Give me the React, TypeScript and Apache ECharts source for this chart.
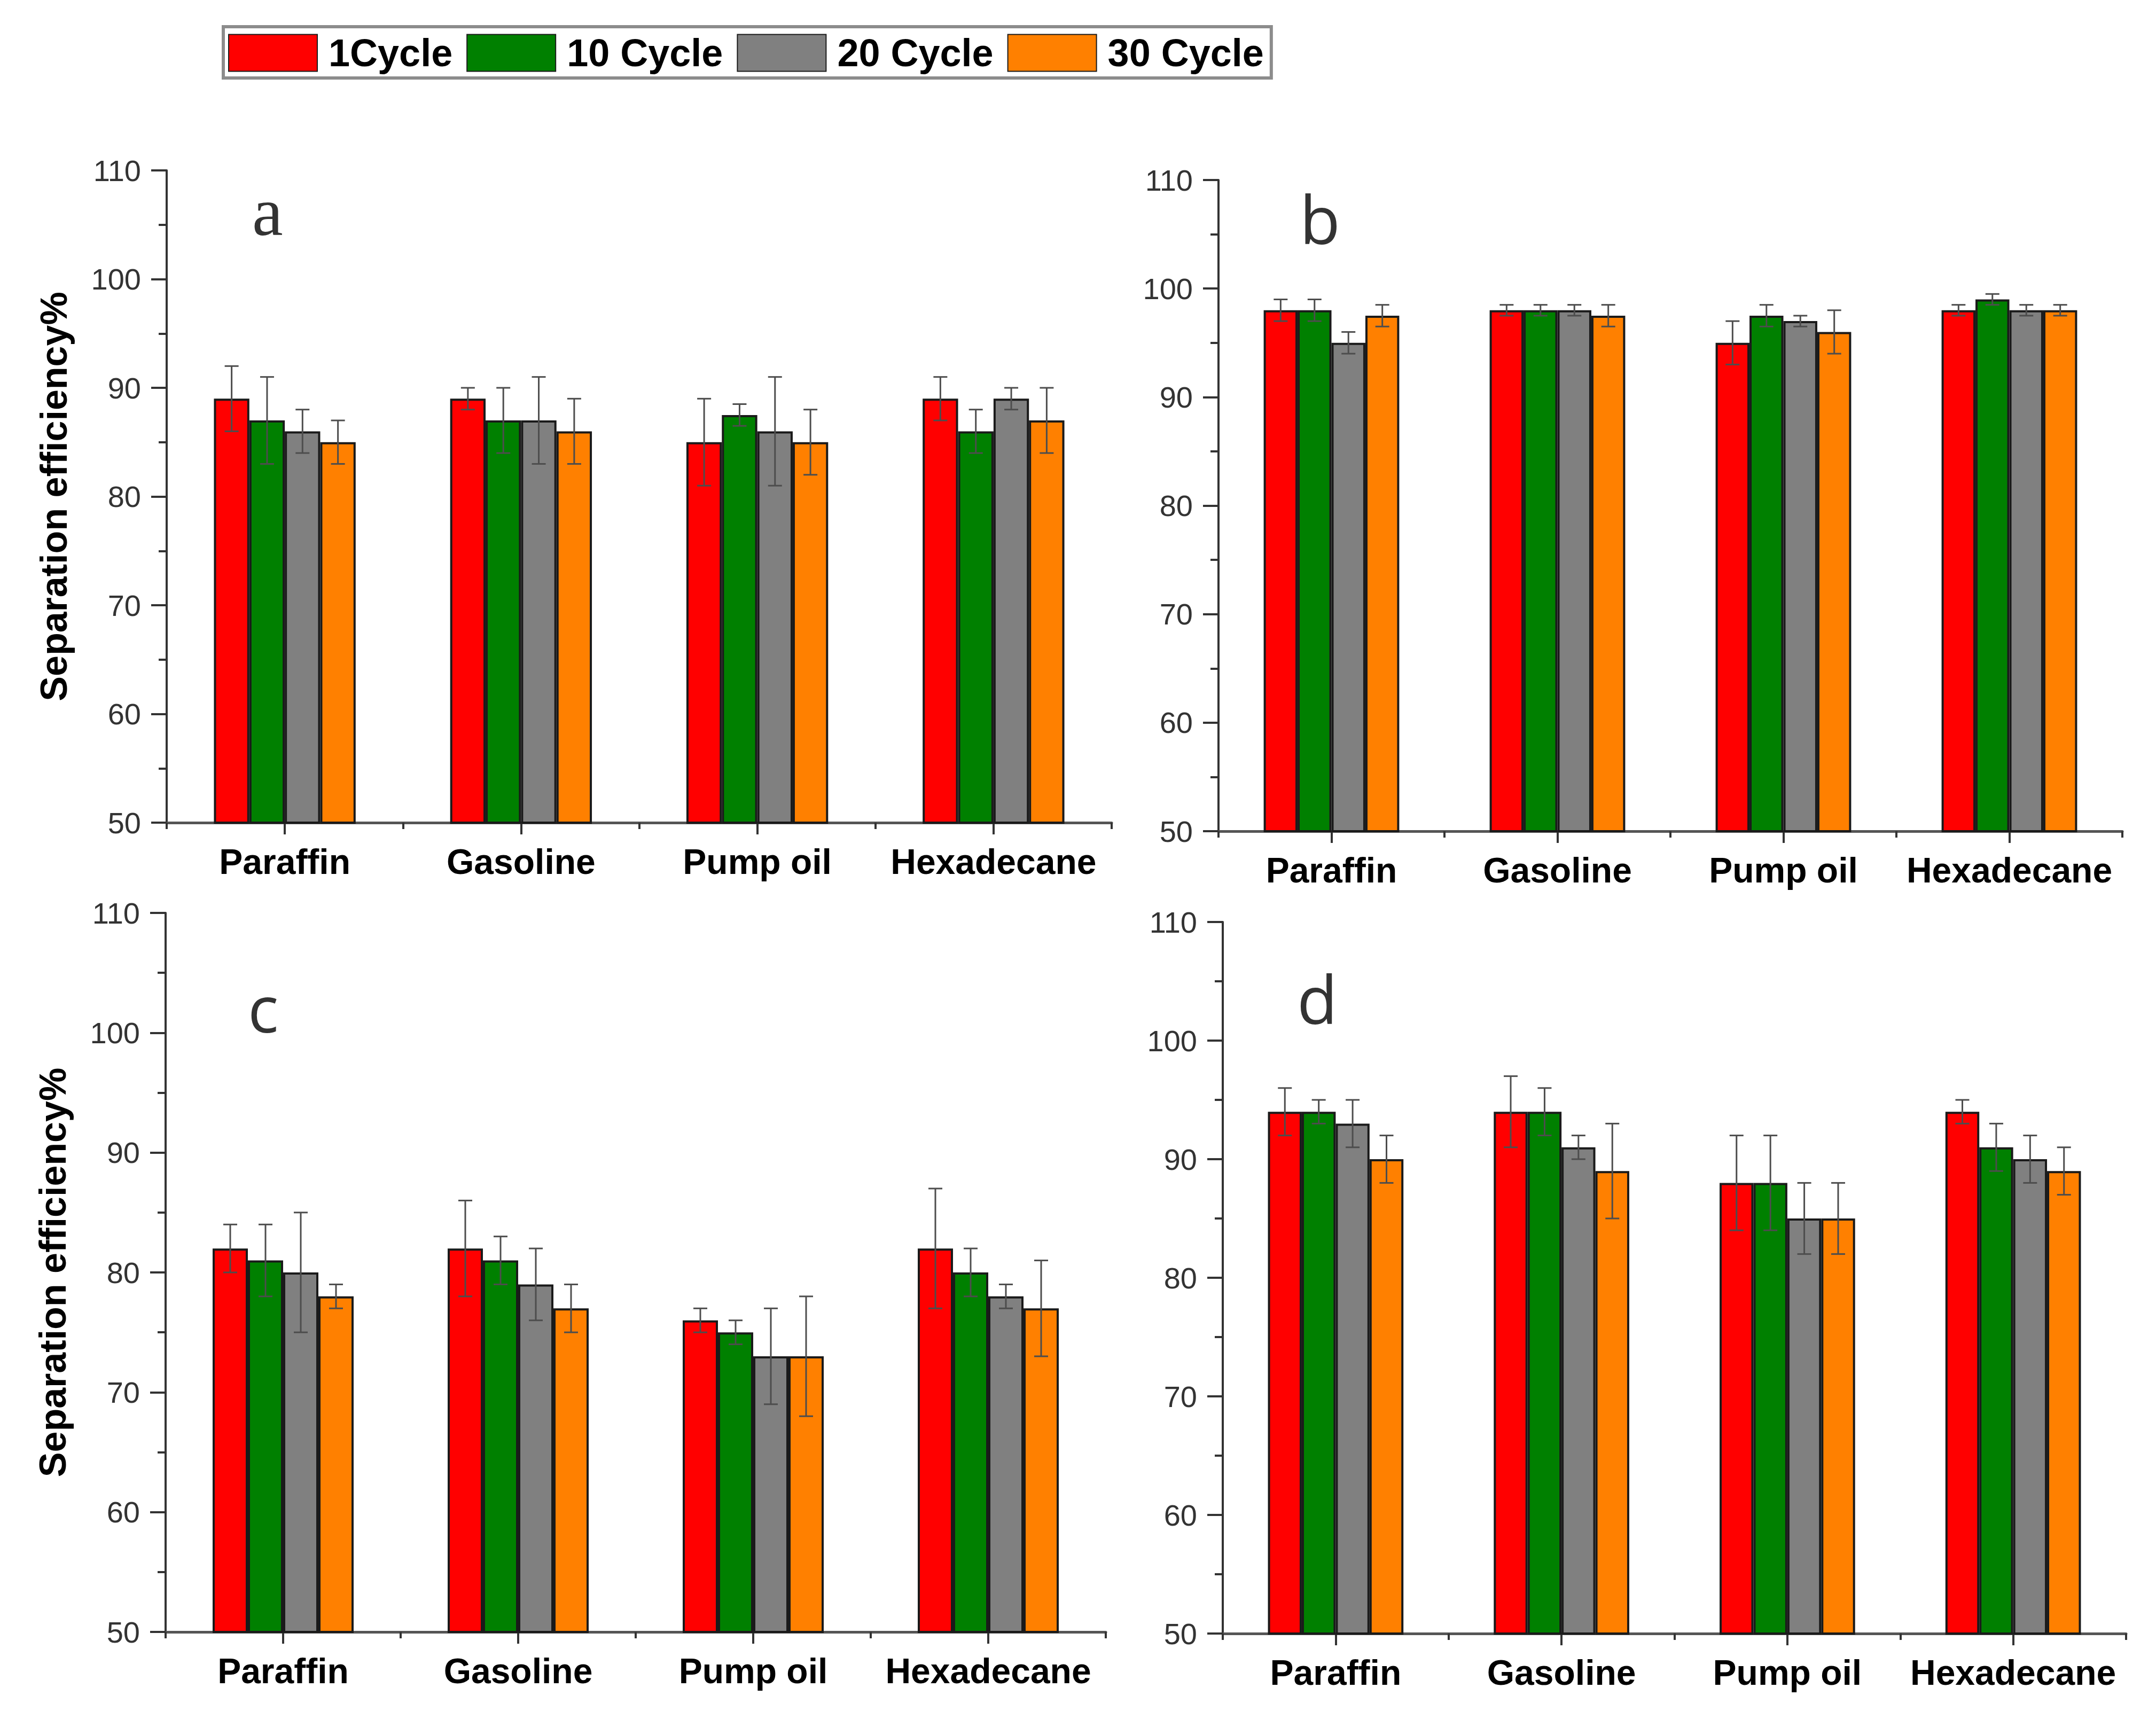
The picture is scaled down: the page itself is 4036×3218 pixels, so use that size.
import React, { useEffect, useRef } from "react";
import * as echarts from "echarts";

// ---------- data ----------
const categories = ["Paraffin", "Gasoline", "Pump oil", "Hexadecane"];
const cycles = ["1Cycle", "10 Cycle", "20 Cycle", "30 Cycle"];
const cycleColors = ["#FF0000", "#008000", "#808080", "#FF8000"];

const yMin = 50;
const yMax = 110;
const yStep = 10;

// rows: cycle (1, 10, 20, 30); columns: categories
const panelAValues = [
  [89, 89, 85, 89],
  [87, 87, 87.5, 86],
  [86, 87, 86, 89],
  [85, 86, 85, 87],
];
const panelAErrors = [
  [3, 1, 4, 2],
  [4, 3, 1, 2],
  [2, 4, 5, 1],
  [2, 3, 3, 3],
];

const panelBValues = [
  [98, 98, 95, 98],
  [98, 98, 97.5, 99],
  [95, 98, 97, 98],
  [97.5, 97.5, 96, 98],
];
const panelBErrors = [
  [1, 0.5, 2, 0.5],
  [1, 0.5, 1, 0.5],
  [1, 0.5, 0.5, 0.5],
  [1, 1, 2, 0.5],
];

const panelCValues = [
  [82, 82, 76, 82],
  [81, 81, 75, 80],
  [80, 79, 73, 78],
  [78, 77, 73, 77],
];
const panelCErrors = [
  [2, 4, 1, 5],
  [3, 2, 1, 2],
  [5, 3, 4, 1],
  [1, 2, 5, 4],
];

const panelDValues = [
  [94, 94, 88, 94],
  [94, 94, 88, 91],
  [93, 91, 85, 90],
  [90, 89, 85, 89],
];
const panelDErrors = [
  [2, 3, 4, 1],
  [1, 2, 4, 2],
  [2, 1, 3, 2],
  [2, 4, 3, 2],
];

const panelLetters = ["a", "b", "c", "d"];
const yAxisTitle = "Separation efficiency%";

// ---------- layout ----------
const panels = [
  {
    values: panelAValues,
    errors: panelAErrors,
    grid: { left: 312, top: 319, width: 1769, height: 1221 },
    title: true,
    letter: { x: 472, y: 461, family: "Liberation Serif", size: 130 },
  },
  {
    values: panelBValues,
    errors: panelBErrors,
    grid: { left: 2281, top: 337, width: 1692, height: 1219 },
    title: false,
    letter: { x: 2433, y: 470, family: "Open Sans", size: 124 },
  },
  {
    values: panelCValues,
    errors: panelCErrors,
    grid: { left: 310, top: 1709, width: 1760, height: 1346 },
    title: true,
    letter: { x: 464, y: 1946, family: "Open Sans", size: 120 },
  },
  {
    values: panelDValues,
    errors: panelDErrors,
    grid: { left: 2289, top: 1726, width: 1691, height: 1332 },
    title: false,
    letter: { x: 2428, y: 1930, family: "Open Sans", size: 124 },
  },
];

const axisColor = "#333333";
const font = "Liberation Sans";

function buildOption() {
  const grids: any[] = [];
  const xAxes: any[] = [];
  const yAxes: any[] = [];
  const series: any[] = [];
  const graphics: any[] = [];

  panels.forEach((p, pi) => {
    grids.push({ ...p.grid, containLabel: false });
  });

  // primary category axes (labels + long ticks at centers)
  panels.forEach((p, pi) => {
    xAxes.push({
      type: "category",
      gridIndex: pi,
      position: "bottom",
      data: categories,
      boundaryGap: true,
      axisLine: { show: true, onZero: false, lineStyle: { color: "#555555", width: 5 } },
      axisTick: { show: true, alignWithLabel: true, length: 22, lineStyle: { color: axisColor, width: 4 } },
      axisLabel: {
        show: true,
        margin: 40,
        fontSize: 66,
        fontWeight: "bold",
        fontFamily: font,
        color: "#000000",
        interval: 0,
      },
      splitLine: { show: false },
    });
  });
  // secondary category axes (short ticks at boundaries)
  panels.forEach((p, pi) => {
    xAxes.push({
      type: "category",
      gridIndex: pi,
      position: "bottom",
      data: categories,
      boundaryGap: true,
      axisLine: { show: false },
      axisTick: { show: true, alignWithLabel: false, length: 12, interval: 0, lineStyle: { color: axisColor, width: 4 } },
      axisLabel: { show: false },
      splitLine: { show: false },
    });
  });

  panels.forEach((p, pi) => {
    yAxes.push({
      type: "value",
      gridIndex: pi,
      min: yMin,
      max: yMax,
      interval: yStep,
      name: p.title ? yAxisTitle : "",
      nameLocation: "middle",
      nameGap: 176,
      nameTextStyle: { fontSize: 70, fontWeight: "bold", fontFamily: font, color: "#000000" },
      axisLine: { show: true, lineStyle: { color: axisColor, width: 4 } },
      axisTick: { show: true, length: 29, lineStyle: { color: axisColor, width: 4 } },
      minorTick: { show: true, splitNumber: 2, length: 15, lineStyle: { color: axisColor, width: 4 } },
      axisLabel: { margin: 48, fontSize: 56, fontFamily: font, color: "#333333" },
      splitLine: { show: false },
      minorSplitLine: { show: false },
    });
  });

  panels.forEach((p, pi) => {
    cycles.forEach((c, ci) => {
      series.push({
        type: "bar",
        name: c,
        xAxisIndex: pi,
        yAxisIndex: pi,
        data: p.values[ci],
        barGap: "0%",
        barCategoryGap: "40%",
        itemStyle: { color: cycleColors[ci], borderColor: "#1a1a1a", borderWidth: 4 },
        emphasis: { disabled: true },
      });
    });
    const errData: any[] = [];
    cycles.forEach((c, ci) => {
      categories.forEach((cat, k) => {
        const v = p.values[ci][k];
        const e = p.errors[ci][k];
        errData.push([k, v - e, v + e, ci]);
      });
    });
    series.push({
      type: "custom",
      name: "err" + pi,
      xAxisIndex: pi,
      yAxisIndex: pi,
      z: 5,
      encode: { x: 0, y: [1, 2] },
      data: errData,
      renderItem: (params: any, api: any) => {
        const k = api.value(0);
        const lo = api.value(1);
        const hi = api.value(2);
        const ci = api.value(3);
        const band = api.size([1, 0])[0];
        const pLo = api.coord([k, lo]);
        const pHi = api.coord([k, hi]);
        const x = pLo[0] + (ci - 1.5) * band * 0.15;
        const cap = 13;
        const style = { stroke: "#4d4d4d", lineWidth: 3 };
        return {
          type: "group",
          children: [
            { type: "line", shape: { x1: x, y1: pHi[1], x2: x, y2: pLo[1] }, style },
            { type: "line", shape: { x1: x - cap, y1: pHi[1], x2: x + cap, y2: pHi[1] }, style },
            { type: "line", shape: { x1: x - cap, y1: pLo[1], x2: x + cap, y2: pLo[1] }, style },
          ],
        };
      },
    });

    graphics.push({
      type: "text",
      left: p.letter.x,
      top: p.letter.y - p.letter.size,
      style: {
        text: panelLetters[pi],
        fontSize: p.letter.size,
        fontFamily: p.letter.family,
        fill: "#333333",
      },
    });
  });

  return {
    animation: false,
    backgroundColor: "#ffffff",
    grid: grids,
    xAxis: xAxes,
    yAxis: yAxes,
    legend: {
      data: cycles,
      left: 418,
      top: 50,
      orient: "horizontal",
      icon: "rect",
      itemWidth: 166,
      itemHeight: 69,
      itemGap: 26,
      padding: [13, 14, 11, 9],
      borderColor: "#8c8c8c",
      borderWidth: 6,
      backgroundColor: "#ffffff",
      selectedMode: false,
      textStyle: {
        fontSize: 72,
        fontWeight: "bold",
        fontFamily: font,
        color: "#000000",
        padding: [0, 0, 0, 16],
      },
    },
    graphic: graphics,
    series,
  };
}

export default function App() {
  const ref = useRef<HTMLDivElement>(null);
  useEffect(() => {
    if (!ref.current) return;
    const chart = echarts.init(ref.current, undefined, { renderer: "svg" });
    chart.setOption(buildOption() as any);
    return () => {
      chart.dispose();
    };
  }, []);
  return (
    <div
      ref={ref}
      style={{ position: "fixed", left: 0, top: 0, width: 4036, height: 3218, background: "#ffffff" }}
    />
  );
}
